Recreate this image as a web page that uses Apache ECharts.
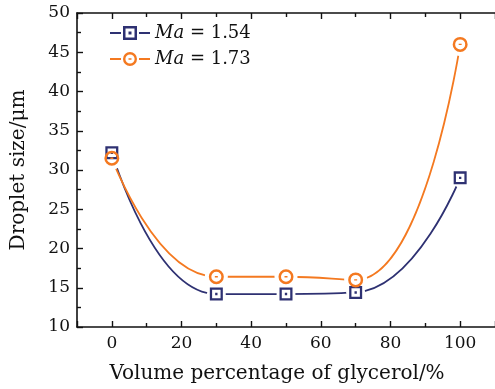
<!DOCTYPE html>
<html>
<head>
<meta charset="utf-8">
<script src="https://cdn.jsdelivr.net/npm/echarts@6/dist/echarts.min.js"></script>
<style>
  html, body { margin: 0; padding: 0; background: #fff; }
  #chart { width: 495px; height: 389px; }
</style>
</head>
<body>
<div id="chart"></div>
<script>
const glycerol = [0, 30, 50, 70, 100];
const ma154 = [32.2, 14.2, 14.2, 14.4, 29.0];
const ma173 = [31.5, 16.4, 16.4, 16.0, 46.0];
const seriesNames = ['Ma=1.54', 'Ma=1.73'];

const navy = '#2e3172';
const orange = '#f47920';
const font = 'DejaVu Serif';

// ring markers with a hole and a small centre dot
const squareMark = 'path://M0,0H20V20H0Z M3.5,3.5V16.5H16.5V3.5Z M8.2,8.2H11.8V11.8H8.2Z';
const circleMark = 'path://M10,0A10,10,0,1,1,9.99,0Z M10,3.3A6.7,6.7,0,1,0,10.01,3.3Z M8,9.1H12V10.9H8Z';
const squareIcon = 'path://M0,6H11V8H0Z M13,0H27V14H13Z M15.5,2.5V11.5H24.5V2.5Z M18.5,5.5H21.5V8.5H18.5Z M29,6H40V8H29Z';
const circleIcon = 'path://M0,6H11V8H0Z M20,0A7,7,0,1,1,19.99,0Z M20,2.4A4.6,4.6,0,1,0,20.01,2.4Z M18.5,6.3H21.5V7.7H18.5Z M29,6H40V8H29Z';

const pts = (ys) => glycerol.map((x, i) => [x, ys[i]]);

const chart = echarts.init(document.getElementById('chart'));

const axisCommon = {
  type: 'value',
  axisLine: { show: true, onZero: false, lineStyle: { color: '#111', width: 1.6 } },
  axisTick: { show: true, inside: true, length: 6, lineStyle: { color: '#111', width: 1.4 } },
  minorTick: { show: true, splitNumber: 2, length: 4, lineStyle: { color: '#111', width: 1.4 } },
  splitLine: { show: false }
};

chart.setOption({
  animation: false,
  grid: { left: 77, right: -2, top: 13, bottom: 62 },
  legend: {
    orient: 'vertical',
    left: 110,
    top: 23,
    padding: 0,
    itemWidth: 40,
    itemHeight: 14,
    itemGap: 6,
    selectedMode: false,
    data: [
      { name: seriesNames[0], icon: squareIcon },
      { name: seriesNames[1], icon: circleIcon }
    ],
    formatter: (name) => '{i|Ma} = ' + name.split('=')[1],
    textStyle: {
      fontFamily: font, fontSize: 18, color: '#111', lineHeight: 20,
      rich: { i: { fontFamily: font, fontSize: 18, fontStyle: 'italic', color: '#111' } }
    }
  },
  xAxis: [
    Object.assign({}, axisCommon, {
      min: -10, max: 110, splitNumber: 6,
      name: 'Volume percentage of glycerol/%',
      nameLocation: 'middle',
      nameGap: 37,
      nameTextStyle: { fontFamily: font, fontSize: 20, color: '#111', padding: [0, 18, 0, 0] },
      axisLabel: { fontFamily: font, fontSize: 17, color: '#111', margin: 8, showMinLabel: false, showMaxLabel: false }
    }),
    Object.assign({}, axisCommon, {
      min: -10, max: 110, splitNumber: 6, position: 'top',
      axisLabel: { show: false }
    })
  ],
  yAxis: Object.assign({}, axisCommon, {
    min: 10, max: 50, interval: 5,
    name: 'Droplet size/μm',
    nameLocation: 'middle',
    nameGap: 48,
    nameTextStyle: { fontFamily: font, fontSize: 20, color: '#111' },
    axisLabel: { fontFamily: font, fontSize: 17, color: '#111', margin: 7 }
  }),
  series: [
    {
      name: seriesNames[0], type: 'line', data: pts(ma154), smooth: 0.5,
      symbol: 'none', color: navy, lineStyle: { color: navy, width: 1.8 }, z: 2
    },
    {
      name: seriesNames[1], type: 'line', data: pts(ma173), smooth: 0.5,
      symbol: 'none', color: orange, lineStyle: { color: orange, width: 1.8 }, z: 2
    },
    // white halos so the curves stop short of the markers
    {
      name: 'halo154', type: 'scatter', data: pts(ma154), symbol: 'circle', symbolSize: 19,
      itemStyle: { color: '#fff', opacity: 1 }, silent: true, z: 3
    },
    {
      name: 'halo173', type: 'scatter', data: pts(ma173), symbol: 'circle', symbolSize: 23,
      itemStyle: { color: '#fff', opacity: 1 }, silent: true, z: 3
    },
    {
      name: 'mark154', type: 'scatter', data: pts(ma154), symbol: squareMark, symbolSize: 13,
      itemStyle: { color: navy, opacity: 1 }, silent: true, z: 4
    },
    {
      name: 'mark173', type: 'scatter', data: pts(ma173), symbol: circleMark, symbolSize: 15,
      itemStyle: { color: orange, opacity: 1 }, silent: true, z: 5
    }
  ]
});
</script>
</body>
</html>
